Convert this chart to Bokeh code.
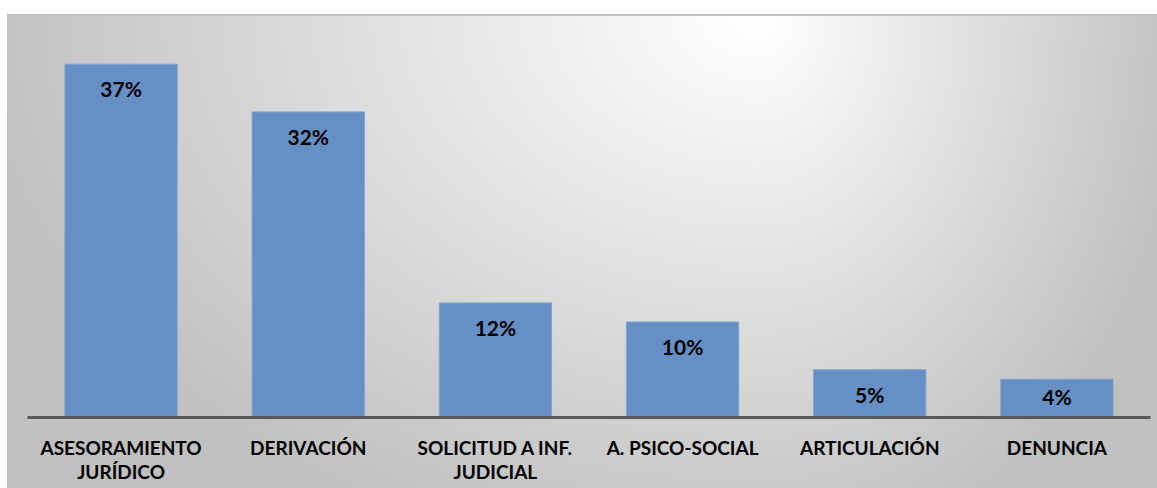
from bokeh.plotting import figure
from bokeh.models import ColumnDataSource, FactorRange, Range1d
from bokeh.core.properties import value
from bokeh.embed import file_html
from bokeh.resources import INLINE

categories = ["ASESORAMIENTO\nJURÍDICO", "DERIVACIÓN", "SOLICITUD A INF.\nJUDICIAL",
              "A. PSICO-SOCIAL", "ARTICULACIÓN", "DENUNCIA"]
values = [37, 32, 12, 10, 5, 4]
labels = [f"{v}%" for v in values]

# label anchor: inside the top of the bar, but never lower than near the axis
label_y = [max(v - 2.6, 2.2) for v in values]

source = ColumnDataSource(data=dict(cat=categories, val=values, lab=labels, ly=label_y))

bg = ("linear-gradient(to right, #ffffff 0px, #ffffff 7px, rgba(255,255,255,0) 7px) 0 0 / 100% 100% no-repeat, "
      "linear-gradient(to bottom, #ffffff 0px, #ffffff 14px, #c0c0c0 14px, #c0c0c0 16px, rgba(255,255,255,0) 16px) 0 0 / 100% 100% no-repeat, "
      "radial-gradient(ellipse 790px 560px at 100% 15px, #ffffff 0%, #c0c0c0 100%) 0 0 / 760px 100% no-repeat, "
      "radial-gradient(ellipse 430px 560px at 0px 15px, #ffffff 0%, #c0c0c0 100%) 760px 0 / 397px 100% no-repeat")

p = figure(x_range=FactorRange(*categories, range_padding=0), y_range=Range1d(0, 40),
           width=1157, height=488, output_backend="svg", toolbar_location=None,
           y_axis_location=None, min_border_left=27, min_border_right=7,
           min_border_top=35, min_border_bottom=71,
           styles={"background": bg})
p.border_fill_color = None
p.background_fill_color = None
p.outline_line_color = None
p.xgrid.grid_line_color = None
p.ygrid.grid_line_color = None

p.vbar(x="cat", top="val", width=0.6, source=source,
       fill_color="#6690C5", line_color="#7FA3D2", line_width=1)

p.text(x="cat", y="ly", text="lab", source=source,
       text_align="center", text_baseline="middle",
       text_font=value("Lato"), text_font_style="bold", text_font_size="21px",
       text_color="#000000")

ax = p.xaxis[0]
ax.axis_line_color = "#595959"
ax.axis_line_width = 3
ax.major_tick_line_color = None
ax.minor_tick_line_color = None
ax.major_label_text_font = "Lato"
ax.major_label_text_font_style = "bold"
ax.major_label_text_font_size = "19px"
ax.major_label_text_color = "#000000"
ax.major_label_text_line_height = 1.05
ax.major_label_standoff = 12

open("out.html", "w").write(file_html(p, INLINE))
